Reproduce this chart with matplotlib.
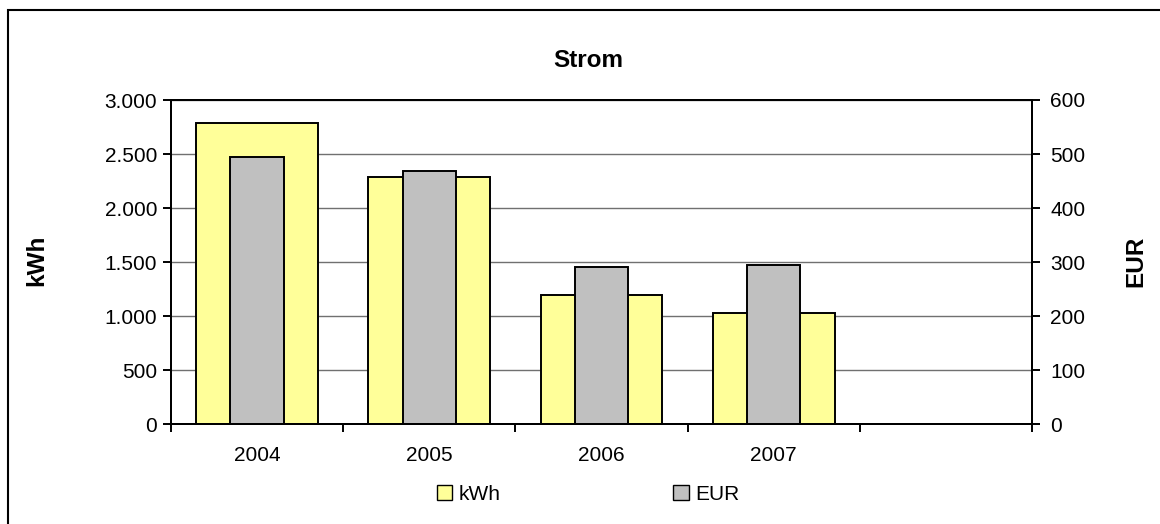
import matplotlib.pyplot as plt
from matplotlib.patches import Rectangle, Patch
import numpy as np

plt.rcParams['font.family'] = ['Liberation Sans', 'DejaVu Sans']

# data
years = ['2004', '2005', '2006', '2007', '']
kwh = [2783, 2283, 1197, 1030, 0]
eur = [494, 468, 291, 295, 0]
kwh_ticks = [0, 500, 1000, 1500, 2000, 2500, 3000]
kwh_labels = ['0', '500', '1.000', '1.500', '2.000', '2.500', '3.000']
eur_ticks = [0, 100, 200, 300, 400, 500, 600]

yellow = '#FFFF99'
grey = '#C0C0C0'

fig = plt.figure(figsize=(11.6, 5.24), dpi=100)
ax = fig.add_axes([171 / 1160, 1 - 424 / 524, (1032 - 171) / 1160, 324 / 524])
ax2 = ax.twinx()

x = np.arange(len(years))
ax.bar(x[:4], kwh[:4], width=0.707, color=yellow, edgecolor='black', linewidth=1.4, zorder=2)
ax2.bar(x[:4], eur[:4], width=0.31, color=grey, edgecolor='black', linewidth=1.4, zorder=2)

ax.set_xlim(-0.5, 4.5)
ax.set_ylim(0, 3000)
ax2.set_ylim(0, 600)

ax.set_yticks(kwh_ticks)
ax.set_yticklabels(kwh_labels)
ax2.set_yticks(eur_ticks)
ax.grid(axis='y', color='#707070', linewidth=1, zorder=0)
ax.set_axisbelow(True)

ax.set_xticks(x)
ax.set_xticklabels(years)
ax.set_xticks(np.arange(-0.5, 5, 1), minor=True)
ax.tick_params(axis='x', which='major', length=0, pad=16, labelsize=15)
ax.tick_params(axis='x', which='minor', length=6, width=1.4, direction='out')
ax.tick_params(axis='y', length=6, width=1.4, labelsize=15, pad=4)
ax2.tick_params(axis='y', length=6, width=1.4, labelsize=15, pad=7)

for a in (ax, ax2):
    for s in a.spines.values():
        s.set_linewidth(1.4)
        s.set_color('black')

fig.text(588 / 1160, 1 - 61 / 524, 'Strom', ha='center', va='center',
         fontsize=17.5, fontweight='bold')
fig.text(37 / 1160, 1 - 260 / 524, 'kWh', ha='center', va='center',
         rotation=90, fontsize=17.5, fontweight='bold')
fig.text(1136 / 1160, 1 - 261 / 524, 'EUR', ha='center', va='center',
         rotation=90, fontsize=17.5, fontweight='bold')

handles = [Patch(facecolor=yellow, edgecolor='black', linewidth=1),
           Patch(facecolor=grey, edgecolor='black', linewidth=1)]
fig.legend(handles, ['kWh', 'EUR'], loc='center', ncol=2,
           bbox_to_anchor=(588 / 1160, 1 - 494 / 524), frameon=False,
           fontsize=15, handlelength=0.73, handleheight=0.73,
           handletextpad=0.3, columnspacing=8.3, borderpad=0)

# outer chart border (only left and top edges are inside the picture)
fig.patches.append(Rectangle((8 / 1160, -0.1), 1.2, 1 - 10 / 524 + 0.1,
                             transform=fig.transFigure, fill=False,
                             edgecolor='black', linewidth=1.5))

fig.savefig('out.png', dpi=100)
